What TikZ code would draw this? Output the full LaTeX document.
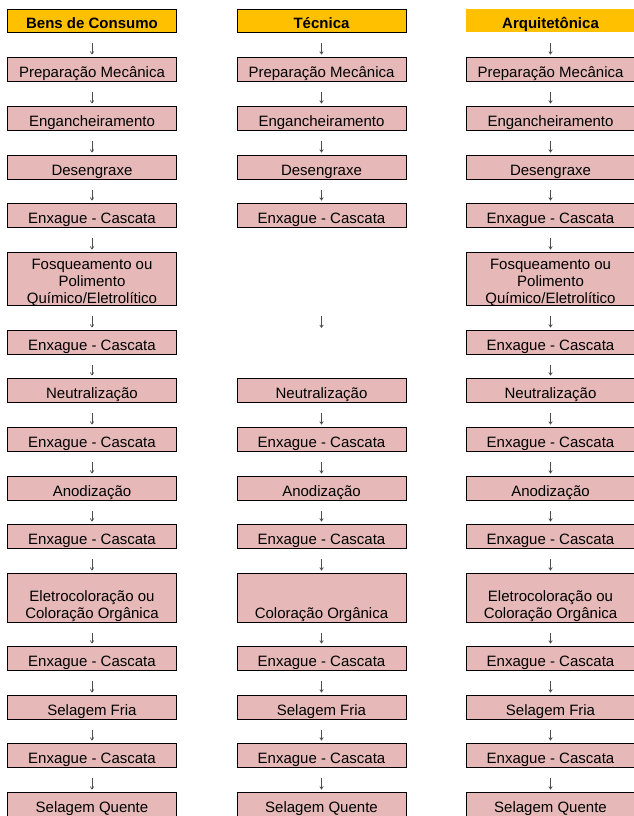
\documentclass[tikz,border=0pt]{standalone}
\usepackage{fontspec}
\setmainfont{Liberation Sans}
\usepackage{xcolor}
\usetikzlibrary{arrows.meta}

\definecolor{headyellow}{HTML}{FFC000}
\definecolor{stagepink}{HTML}{E6B9B8}
\definecolor{flowgray}{HTML}{4D4D4D}
\newcommand{\stagefont}{\fontsize{15}{17}\selectfont}
\newcommand{\stagetext}[2][8.65]{\raisebox{-#1pt}[0pt][0pt]{\begin{tabular}{@{}c@{}}#2\end{tabular}}}

\begin{document}
\begin{tikzpicture}[x=1pt, y=-1pt,
        stage/.style={draw=black, line width=0.8pt, fill=stagepink, minimum width=169pt, minimum height=24pt, inner sep=0pt, font=\stagefont},
        head/.style={stage, fill=headyellow, minimum height=23pt, font=\stagefont\bfseries},
        flow/.style={draw=flowgray, line width=0.7pt, -{Straight Barb[length=2.5pt,width=3.5pt]}, shorten <=10.5pt, shorten >=2pt}]
        \clip (0,0) rectangle (634,816);
        % headers
        \node[head] (a0) at (92,20.5) {\stagetext{Bens de Consumo}};
        \node[head] (b0) at (321.5,20.5) {\stagetext{Técnica}};
        \node[head, draw=none] (c0) at (550.5,20.5) {\stagetext{Arquitetônica}};
        % steps shared by all three lines
        \foreach \c/\x in {a/92, b/321.5, c/550.5}
            \foreach \r/\y/\t in {1/69/Preparação Mecânica, 2/118/Engancheiramento, 3/167/Desengraxe, 4/215/Enxague - Cascata,
                    7/390/Neutralização, 8/439/Enxague - Cascata, 9/488/Anodização, 10/536/Enxague - Cascata,
                    12/658/Enxague - Cascata, 13/707/Selagem Fria, 14/755/Enxague - Cascata, 15/804/Selagem Quente}
                \node[stage] (\c\r) at (\x,\y) {\stagetext{\t}};
        \foreach \c/\x in {a/92, c/550.5} {
            \node[stage, minimum height=53pt] (\c5) at (\x,278.5) {\stagetext{Fosqueamento ou\\Polimento\\Químico/Eletrolítico}};
            \node[stage] (\c6) at (\x,342) {\stagetext{Enxague - Cascata}};
            \node[stage, minimum height=49pt] (\c11) at (\x,597.5) {\stagetext[12.65]{Eletrocoloração ou\\Coloração Orgânica}};
        }
        \node[stage, minimum height=49pt] (b11) at (321.5,597.5) {\stagetext[12.65]{\\Coloração Orgânica}};
        \coordinate (b5) at (321.5,305);
        \coordinate (b6) at (321.5,330);
        % arrows
        \foreach \c in {a,c}
            \foreach \i [count=\j from 1] in {0,...,14} \draw[flow] (\c\i.south) -- (\c\j.north);
        \foreach \i [count=\j from 1] in {0,...,3} \draw[flow] (b\i.south) -- (b\j.north);
        \draw[flow] (b5) -- (b6);
        \foreach \i [count=\j from 8] in {7,...,14} \draw[flow] (b\i.south) -- (b\j.north);
    \end{tikzpicture}
\end{document}
